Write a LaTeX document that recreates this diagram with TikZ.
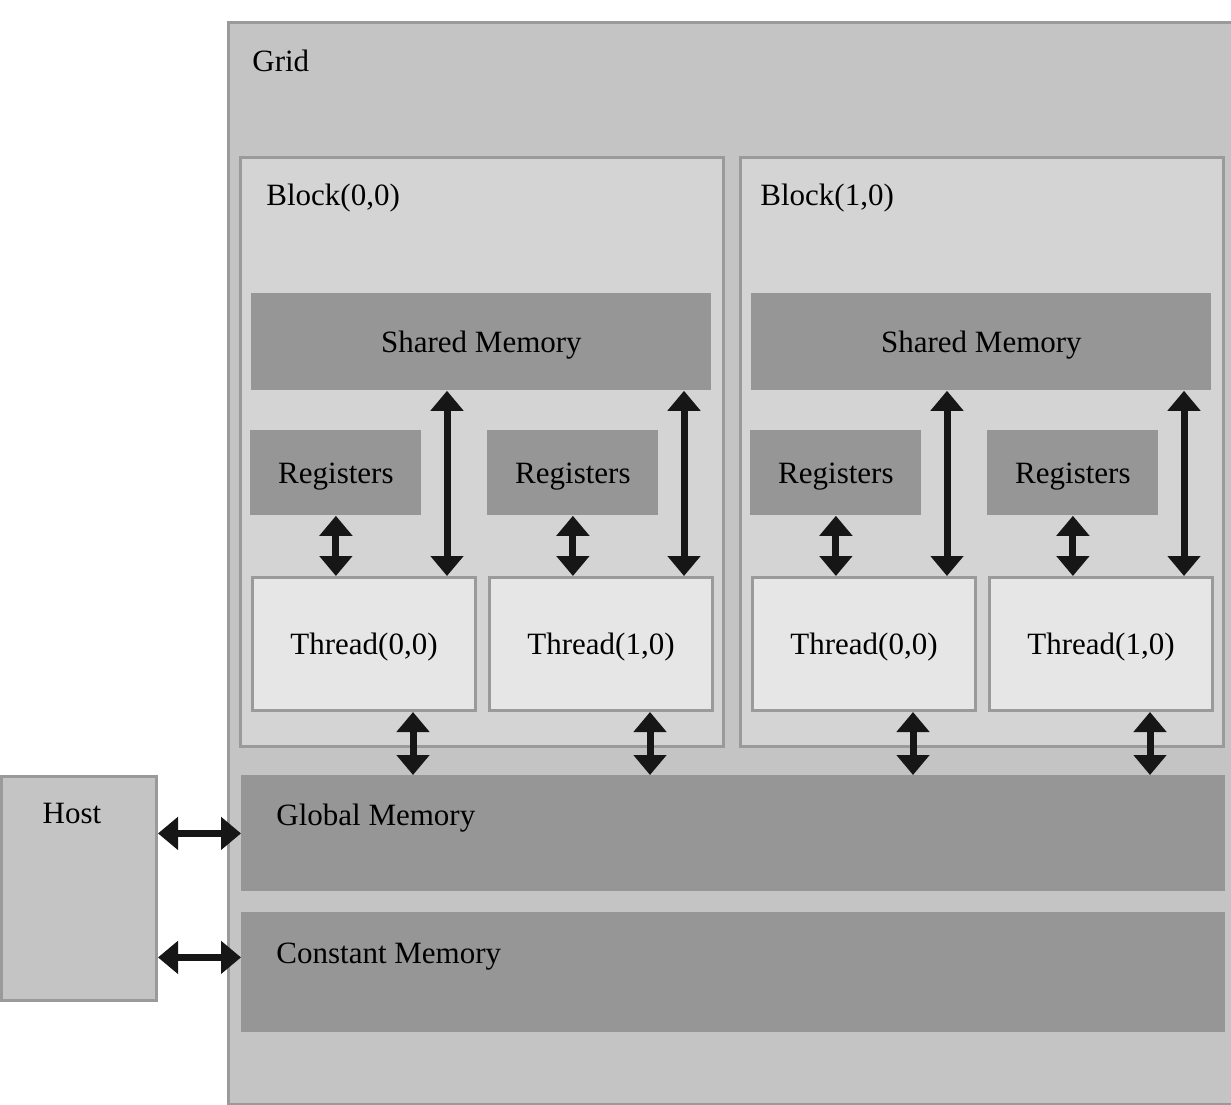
\documentclass[tikz,border=0pt]{standalone}
\usepackage{fontspec}
\setmainfont{Liberation Serif}
\usetikzlibrary{positioning,calc,arrows.meta}
\definecolor{gridgray}{HTML}{C4C4C4}
\definecolor{blockgray}{HTML}{D4D4D4}
\definecolor{memgray}{HTML}{969696}
\definecolor{threadgray}{HTML}{E6E6E6}
\definecolor{edgegray}{HTML}{9A9A9A}
\definecolor{arrowblack}{HTML}{161616}
\tikzset{
	>={Triangle[length=10pt,width=16pt]},
	dedge/.style={arrows=<->, arrowblack, line width=3.5pt},
	wh/.style 2 args={minimum width=#1*0.5pt, minimum height=#2*0.5pt},
	nbox/.style={rectangle, inner sep=0pt, anchor=north west},
	gridbox/.style={nbox, fill=gridgray, draw=edgegray, line width=1.5pt},
	blockbox/.style={nbox, fill=blockgray, draw=edgegray, line width=1.5pt, wh={483}{589}},
	membox/.style={nbox, fill=memgray, text depth=0pt},
	regbox/.style={membox, wh={171}{85}},
	threadbox/.style={nbox, fill=threadgray, draw=edgegray, line width=1.5pt, wh={223}{133}, text depth=0pt},
	hostbox/.style={nbox, fill=gridgray, draw=edgegray, line width=1.5pt, wh={155}{224}},
	title/.style={inner sep=0pt, anchor=west},
}

\begin{document}
\begin{tikzpicture}[x=0.5pt, y=-0.5pt, font=\fontsize{15.5}{18}\selectfont]
	\useasboundingbox (0,0) rectangle (1231,1104);
	
	\node[gridbox, wh={1010}{1082}] (grid) at (227,21) {};
	\node[title] (gridtitle) at ($(grid.north west)+(25,40)$) {Grid};
	
	\foreach \b/\bx/\lx in {0/0/27,1/500/21} {
		\node[blockbox] (blk\b) at (239+\bx,156) {};
		\node[title] (blktitle\b) at ($(blk\b.north west)+(\lx,42)$) {Block(\b,0)};
		\node[membox, wh={460}{97}] (sm\b) at (251+\bx,293) {Shared Memory};
		\foreach \t/\tx in {0/0,1/237} {
			\node[regbox] (reg\b\t) at (250+\bx+\tx,430) {Registers};
			\node[threadbox] (th\b\t) at (251+\bx+\tx,576) {Thread(\t,0)};
		}
	}
	
	\node[membox, wh={984}{116}] (gm) at (241,775) {};
	\node[title] (gmtitle) at ($(gm.north west)+(35,43)$) {Global Memory};
	\node[membox, wh={984}{120}] (cm) at (241,912) {};
	\node[title] (cmtitle) at ($(cm.north west)+(35,45)$) {Constant Memory};
	
	\node[hostbox] (host) at (0,775) {};
	\node[inner sep=0pt] (hosttitle) at ($(host.north)+(-7,38)$) {Host};
	
	\foreach \b in {0,1}
	\foreach \t in {0,1} {
		\coordinate (up\b\t) at ($(th\b\t.north east)+(-30,0)$);
		\coordinate (down\b\t) at ($(th\b\t.south)+(49,0)$);
		\draw[dedge] (reg\b\t.south) -- (reg\b\t.south |- th\b\t.north);
		\draw[dedge] (up\b\t |- sm\b.south) -- (up\b\t);
		\draw[dedge] (down\b\t) -- (down\b\t |- gm.north);
	}
	
	\coordinate (cmin) at ($(cm.west)+(0,-15)$);
	\draw[dedge] (host.east |- gm.west) -- (gm.west);
	\draw[dedge] (host.east |- cmin) -- (cmin);
\end{tikzpicture}
\end{document}
